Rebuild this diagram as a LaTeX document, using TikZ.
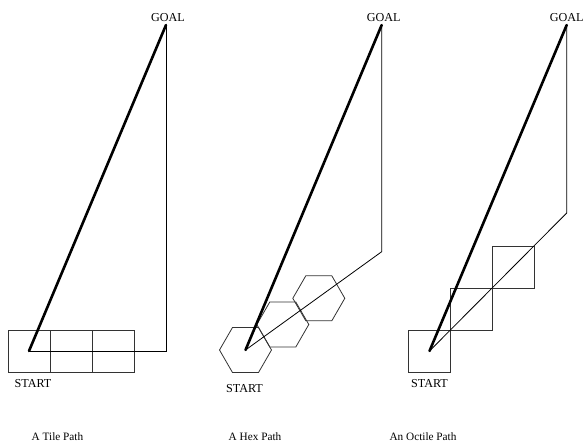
\documentclass[tikz,border=0pt]{standalone}
\usepackage{fontspec}
\setmainfont{Liberation Serif}
\usetikzlibrary{shapes.geometric, positioning}

\begin{document}
\begin{tikzpicture}[
    x=1bp, y=-1bp,
    node distance = 4bp,
    % Styles
    cell/.style = {rectangle, draw=black!80, line width=0.8bp, minimum size=42bp, inner sep=0pt, outer sep=0pt},
    hexcell/.style = {regular polygon, regular polygon sides=6, draw=black!80, line width=0.8bp, minimum size=52bp, inner sep=0pt, outer sep=0pt},
    label/.style = {font=\fontsize{12.2}{14}\selectfont},
    caption/.style = {font=\fontsize{11.3}{13}\selectfont, anchor=base},
    route/.style = {line width=0.8bp, draw=black},
    direct/.style = {line width=2.6bp, draw=black, line cap=round}
]
\useasboundingbox (0,0) rectangle (584,443);

% --- 1. TILE PATH ---
\node[cell] (tileA) at (29,351) {};
\node[cell, right=0pt of tileA] (tileB) {};
\node[cell, right=0pt of tileB] (tileC) {};
\coordinate (tileTurn) at (166,351);
\coordinate (tileGoal) at (166,25);

\node[label, below=4bp of tileA, xshift=4bp] (tileStart) {START};
\node[label, above=0pt of tileGoal, xshift=2bp] (tileGoalText) {GOAL};

\draw[route] (tileA.center) -- (tileTurn) -- (tileGoal);
\draw[direct] (tileA.center) -- (tileGoal);

\node[caption] (tileCaption) at (57.5,440.7) {A Tile Path};

% --- 2. HEX PATH ---
\node[hexcell] (hexA) at (245.5,350) {};
\node[hexcell] (hexB) at (282.8,324.5) {};
\node[hexcell] (hexC) at (318.8,298.3) {};
\coordinate (hexTurn) at (381.7,251.7);
\coordinate (hexGoal) at (381.7,25);

\node[label, below=8bp of hexA, xshift=-1bp] (hexStart) {START};
\node[label, above=0pt of hexGoal, xshift=2bp] (hexGoalText) {GOAL};

\draw[route] (hexA.center) -- (hexTurn) -- (hexGoal);
\draw[direct] (hexA.center) -- (hexGoal);

\node[caption] (hexCaption) at (255,440.7) {A Hex Path};

% --- 3. OCTILE PATH ---
\node[cell] (octA) at (429.5,351) {};
\node[cell, above right=0pt of octA] (octB) {};
\node[cell, above right=0pt of octB] (octC) {};
\coordinate (octTurn) at (566.7,213);
\coordinate (octGoal) at (566.7,25);

\node[label, below=4bp of octA] (octStart) {START};
\node[label, above=0pt of octGoal] (octGoalText) {GOAL};

\draw[route] (octA.center) -- (octTurn) -- (octGoal);
\draw[direct] (octA.center) -- (octGoal);

\node[caption] (octCaption) at (423,440.7) {An Octile Path};

\end{tikzpicture}
\end{document}
